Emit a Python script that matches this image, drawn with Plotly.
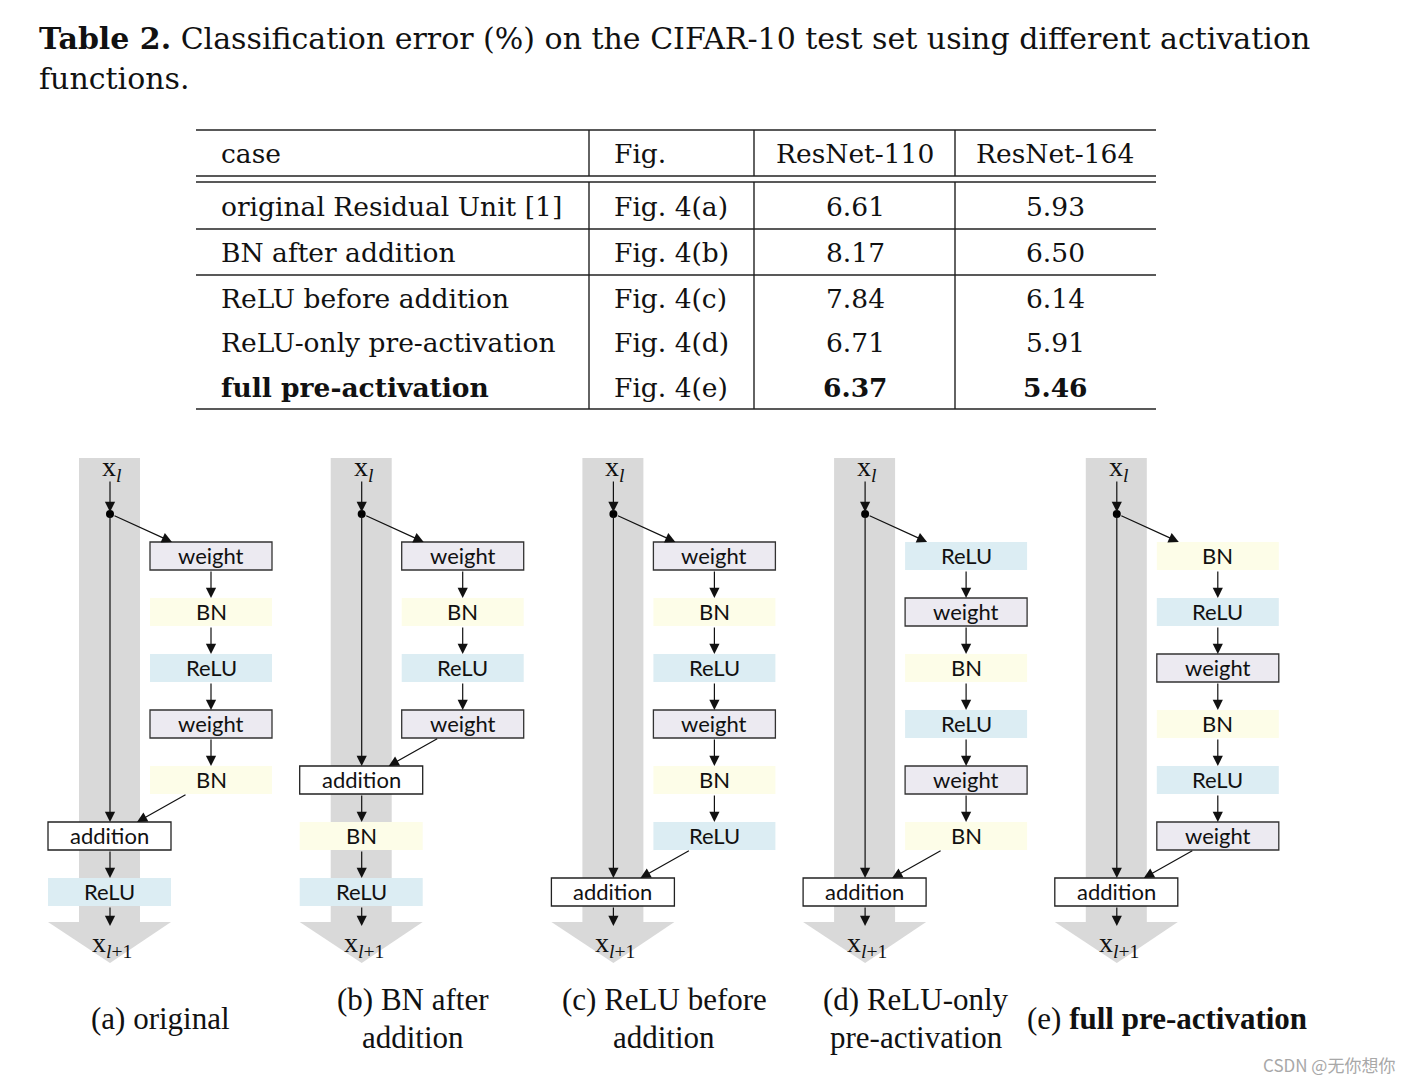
import plotly.graph_objects as go

# ---------------- data ----------------
title_bold = "Table 2."
title_line1 = " Classification error (%) on the CIFAR-10 test set using different activation"
title_line2 = "functions."

header = ["case", "Fig.", "ResNet-110", "ResNet-164"]
cases = ["original Residual Unit [1]", "BN after addition", "ReLU before addition",
         "ReLU-only pre-activation", "full pre-activation"]
figs = ["Fig. 4(a)", "Fig. 4(b)", "Fig. 4(c)", "Fig. 4(d)", "Fig. 4(e)"]
resnet110 = ["6.61", "8.17", "7.84", "6.71", "6.37"]
resnet164 = ["5.93", "6.50", "6.14", "5.91", "5.46"]
bold_row = [False, False, False, False, True]

# residual branch (right column) and post-addition (left column) blocks per panel
branch_blocks = [
    ["weight", "BN", "ReLU", "weight", "BN"],
    ["weight", "BN", "ReLU", "weight"],
    ["weight", "BN", "ReLU", "weight", "BN", "ReLU"],
    ["ReLU", "weight", "BN", "ReLU", "weight", "BN"],
    ["BN", "ReLU", "weight", "BN", "ReLU", "weight"],
]
after_blocks = [
    ["addition", "ReLU"],
    ["addition", "BN", "ReLU"],
    ["addition"],
    ["addition"],
    ["addition"],
]
captions = [
    ["(a) original"],
    ["(b) BN after", "addition"],
    ["(c) ReLU before", "addition"],
    ["(d) ReLU-only", "pre-activation"],
    ["(e) <b>full pre-activation</b>"],
]
watermark = "CSDN @无你想你"

# ---------------- styles ----------------
W, H = 1412, 1082
OFF = 8  # page body margin
SERIF_TAB = "DejaVu Serif"
SERIF = "Liberation Serif"
SANS = "Lato"
block_style = {
    "weight": dict(fill="#ECEAF1", line="#333333", lw=1.3),
    "BN": dict(fill="#FDFDE8", line=None, lw=0),
    "ReLU": dict(fill="#DCEDF3", line=None, lw=0),
    "addition": dict(fill="#FFFFFF", line="#222222", lw=1.3),
}

fig = go.Figure()
shapes = []
annots = []


def text(x, y, s, size, font=SERIF, anchor="center", color="#111111"):
    annots.append(dict(x=x, y=y, xref="x", yref="y", text=s, showarrow=False,
                       xanchor=anchor, yanchor="middle",
                       font=dict(family=font, size=size, color=color)))


def line(x0, y0, x1, y1, w=1.6, color="#222222"):
    shapes.append(dict(type="line", xref="x", yref="y", x0=x0, y0=y0, x1=x1, y1=y1,
                       line=dict(color=color, width=w)))


def arrow(x0, y0, x1, y1, color="#111111", w=1.2):
    annots.append(dict(x=x1, y=y1, ax=x0, ay=y0, xref="x", yref="y", axref="x", ayref="y",
                       text="", showarrow=True, arrowhead=2, arrowsize=1.7,
                       arrowwidth=w, arrowcolor=color, standoff=0, startstandoff=0))


# ---------------- title ----------------
text(37, 38, "<b>" + title_bold + "</b>" + title_line1, 30, font=SERIF_TAB, anchor="left")
text(37, 78, title_line2, 30, font=SERIF_TAB, anchor="left")

# ---------------- table ----------------
tx0, tx1 = 196, 1156
col_lines = [589, 754, 955]
top_y, dbl1, dbl2 = 130, 176, 182
row_centers = [206, 252, 298, 342, 387]
row_rules = [229, 275]
bottom_y = 409
tsize = 26.5

line(tx0, top_y, tx1, top_y)
line(tx0, dbl1, tx1, dbl1)
line(tx0, dbl2, tx1, dbl2)
for ry in row_rules:
    line(tx0, ry, tx1, ry)
line(tx0, bottom_y, tx1, bottom_y)
for cx in col_lines:
    line(cx, top_y, cx, dbl1, w=1.4)
    line(cx, dbl2, cx, bottom_y, w=1.4)

text(219, 153, header[0], tsize, font=SERIF_TAB, anchor="left")
text(612, 153, header[1], tsize, font=SERIF_TAB, anchor="left")
text(855, 153, header[2], tsize, font=SERIF_TAB)
text(1055, 153, header[3], tsize, font=SERIF_TAB)
for i, yc in enumerate(row_centers):
    b0, b1 = ("<b>", "</b>") if bold_row[i] else ("", "")
    text(219, yc, b0 + cases[i] + b1, tsize, font=SERIF_TAB, anchor="left")
    text(612, yc, figs[i], tsize, font=SERIF_TAB, anchor="left")
    text(855, yc, b0 + resnet110[i] + b1, tsize, font=SERIF_TAB)
    text(1055, yc, b0 + resnet164[i] + b1, tsize, font=SERIF_TAB)

# ---------------- diagrams ----------------
panel_dx = 251.7
band_l, band_r, band_top, band_bot = 79, 140, 458, 922
head_l, head_r, head_tip = 48, 171, 963
main_x = 110
right_l, right_r = 150, 272
left_l, left_r = 48, 171
first_top, pitch, bh = 542, 56, 28
dot_y = 514
gray = "#D9D9D9"

dot_x = []
dot_yy = []
for p in range(5):
    ox = p * panel_dx
    # gray identity band + arrow head
    shapes.append(dict(type="rect", xref="x", yref="y", x0=ox + band_l, x1=ox + band_r,
                       y0=band_top, y1=band_bot, fillcolor=gray, line=dict(width=0), layer="below"))
    shapes.append(dict(type="path", xref="x", yref="y",
                       path=f"M {ox+head_l},{band_bot} L {ox+head_r},{band_bot} L {ox+main_x},{head_tip} Z",
                       fillcolor=gray, line=dict(width=0), layer="below"))
    mx = ox + main_x
    # x_l label
    text(mx + 2, 468, "x<sub><i>l</i></sub>", 28)
    arrow(mx, 480, mx, dot_y - 2)
    dot_x.append(mx)
    dot_yy.append(dot_y)

    # branch blocks
    rcx = ox + (right_l + right_r) / 2
    nb = len(branch_blocks[p])
    for k, name in enumerate(branch_blocks[p]):
        y0 = first_top + pitch * k
        st = block_style[name]
        shapes.append(dict(type="rect", xref="x", yref="y", x0=ox + right_l, x1=ox + right_r,
                           y0=y0, y1=y0 + bh, fillcolor=st["fill"],
                           line=dict(color=st["line"] or st["fill"], width=st["lw"])))
        text(rcx, y0 + bh / 2 - 1, name, 22, font=SANS)
        if k > 0:
            arrow(rcx, y0 - pitch + bh, rcx, y0)
    arrow(mx + 3, dot_y + 1, ox + 172, first_top)

    # post-addition blocks on the main path
    add_top = first_top + pitch * nb
    lcx = ox + (left_l + left_r) / 2
    arrow(mx, dot_y, mx, add_top)
    arrow(ox + 187, add_top - pitch + bh, ox + 137, add_top)
    for k, name in enumerate(after_blocks[p]):
        y0 = add_top + pitch * k
        st = block_style[name]
        shapes.append(dict(type="rect", xref="x", yref="y", x0=ox + left_l, x1=ox + left_r,
                           y0=y0, y1=y0 + bh, fillcolor=st["fill"],
                           line=dict(color=st["line"] or st["fill"], width=st["lw"])))
        text(lcx, y0 + bh / 2 - 1, name, 22, font=SANS)
        if k > 0:
            arrow(mx, y0 - pitch + bh, mx, y0)
    last_bottom = add_top + pitch * (len(after_blocks[p]) - 1) + bh
    arrow(mx, last_bottom, mx, 926)
    text(mx + 2, 944, "x<sub><i>l</i>+1</sub>", 28)

    # caption
    cap = captions[p]
    ccx = ox + 160
    if len(cap) == 1:
        text(ccx, 1018, cap[0], 31)
    else:
        text(ccx + 1, 999, cap[0], 31)
        text(ccx + 1, 1037, cap[1], 31)

fig.add_trace(go.Scatter(x=dot_x, y=dot_yy, mode="markers",
                         marker=dict(size=8, color="#000000"), hoverinfo="skip", showlegend=False))

text(1397, 1064, watermark, 17, font="Noto Sans CJK SC", anchor="right", color="#A8A8A8")

fig.update_layout(
    width=W, height=H, margin=dict(l=0, r=0, t=0, b=0),
    paper_bgcolor="white", plot_bgcolor="white",
    xaxis=dict(range=[OFF, W + OFF], visible=False, fixedrange=True),
    yaxis=dict(range=[H + OFF, OFF], visible=False, fixedrange=True),
    shapes=shapes, annotations=annots, showlegend=False,
)
fig.write_html("out.html")
